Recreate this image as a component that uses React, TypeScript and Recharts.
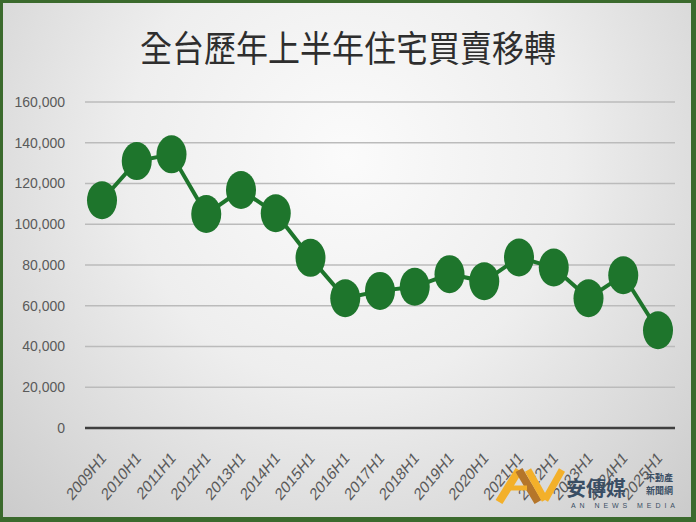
// Half-year residential transfer counts, Taiwan (2009H1 - 2025H1)
import React from "react";
import {
  LineChart,
  Line,
  XAxis,
  YAxis,
  CartesianGrid,
} from "recharts";

const periods = [
  "2009H1", "2010H1", "2011H1", "2012H1", "2013H1", "2014H1", "2015H1", "2016H1", "2017H1",
  "2018H1", "2019H1", "2020H1", "2021H1", "2022H1", "2023H1", "2024H1", "2025H1",
];

const transfers = [
  111800, 131000, 134300, 105000, 116800, 105400, 83500, 63700, 67300,
  69300, 75500, 72000, 83700, 78800, 63700, 75000, 48000,
];

const yTicks = [0, 20000, 40000, 60000, 80000, 100000, 120000, 140000, 160000];

const title = "全台歷年上半年住宅買賣移轉";

const data = periods.map((p, i) => ({ period: p, value: transfers[i] }));

const GREEN = "#1e752c";
const LABEL = "#5a5a5a";
const FONT = "'Liberation Sans', Arial, sans-serif";
const CJK = "'Noto Sans CJK TC', sans-serif";

const EllipseDot = (props: any) => {
  const { cx, cy } = props;
  if (cx == null || cy == null) return null;
  return <ellipse cx={cx} cy={cy} rx={15} ry={19} fill={GREEN} />;
};

// the source image is stretched vertically, so the slanted labels are too
const SlantTick = (props: any) => {
  const { x, y, payload } = props;
  return (
    <text
      x={0}
      y={0}
      transform={`translate(${x + 5}, ${y + 23}) scale(1, 1.22) rotate(-45)`}
      textAnchor="end"
      fontSize={14}
      fontFamily={FONT}
      fill={LABEL}
    >
      {payload.value}
    </text>
  );
};

function Logo() {
  return (
    <svg
      width={696}
      height={522}
      style={{ position: "absolute", left: 0, top: 0, pointerEvents: "none" }}
    >
      <g strokeLinecap="butt">
        <line x1={499} y1={502} x2={519} y2={470} stroke="#f3b02a" strokeWidth={8} />
        <line x1={519} y1={470} x2={538} y2={502} stroke="#b5762a" strokeWidth={8} />
        <line x1={507} y1={488} x2={527} y2={488} stroke="#f3b02a" strokeWidth={5} />
        <line x1={528} y1={470} x2={545} y2={500} stroke="#f3b02a" strokeWidth={7} />
        <line x1={545} y1={500} x2={562} y2={470} stroke="#f3b02a" strokeWidth={7} />
      </g>
      <text x={566} y={496} fontSize={20} fontWeight={700} fontFamily={CJK} fill="#3a4e64">
        安傳媒
      </text>
      <text x={646} y={481} fontSize={9} fontWeight={700} fontFamily={CJK} fill="#3a4e64">
        不動產
      </text>
      <text x={646} y={494} fontSize={9} fontWeight={700} fontFamily={CJK} fill="#3a4e64">
        新聞網
      </text>
      <text
        x={571}
        y={508}
        fontSize={7}
        textLength={104}
        lengthAdjust="spacing"
        fontFamily={FONT}
        fill="#3a4e64"
      >
        AN NEWS MEDIA
      </text>
    </svg>
  );
}

export default function App() {
  return (
    <div
      style={{
        position: "absolute",
        left: 0,
        top: 0,
        width: 696,
        height: 522,
        boxSizing: "border-box",
        borderStyle: "solid",
        borderColor: "#3b6a2d",
        borderWidth: "3px 5px 5px 3px",
        background:
          "radial-gradient(ellipse at 50% 30%, #fbfbfb 0%, #eeeeee 45%, #d8d8d8 80%, #cbcbcb 100%)",
        overflow: "hidden",
      }}
    >
      <div style={{ position: "absolute", left: -3, top: -3, width: 696, height: 522 }}>
        <div
          style={{
            position: "absolute",
            left: 0,
            top: 24,
            width: 696,
            textAlign: "center",
            fontFamily: CJK,
            fontSize: 32,
            color: "#2e2e2e",
            lineHeight: "44px",
            transform: "scaleY(1.12)",
          }}
        >
          {title}
        </div>
        <div style={{ position: "absolute", left: 0, top: 0 }}>
          <LineChart
            width={696}
            height={522}
            data={data}
            margin={{ top: 102, right: 21, bottom: 10, left: 10 }}
          >
            <CartesianGrid vertical={false} stroke="#bbbbbb" strokeWidth={1.6} />
            <XAxis
              dataKey="period"
              height={84}
              interval={0}
              padding={{ left: 17, right: 17 }}
              tickLine={false}
              axisLine={{ stroke: "#3f3f3f", strokeWidth: 2.5 }}
              tick={<SlantTick />}
            />
            <YAxis
              width={75}
              domain={[0, 160000]}
              ticks={yTicks}
              axisLine={false}
              tickLine={false}
              tickSize={6}
              tickMargin={14}
              tickFormatter={(v: number) => v.toLocaleString("en-US")}
              tick={{ fontSize: 14, fontFamily: FONT, fill: LABEL }}
            />
            <Line
              type="linear"
              dataKey="value"
              stroke={GREEN}
              strokeWidth={4}
              dot={<EllipseDot />}
              activeDot={false}
              isAnimationActive={false}
            />
          </LineChart>
        </div>
        <Logo />
      </div>
    </div>
  );
}
